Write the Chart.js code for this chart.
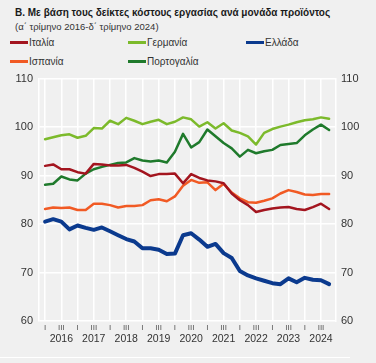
<!DOCTYPE html>
<html>
<head>
<meta charset="utf-8">
<script src="https://cdn.jsdelivr.net/npm/chart.js@4.4.1/dist/chart.umd.min.js"></script>
<style>
  body { margin: 0; background: #f0f0f0; font-family: "Liberation Sans", Arial, sans-serif; }
  #wrap { position: relative; width: 376px; height: 363px; background: #f0f0f0; overflow: hidden; }
  #title { position: absolute; left: 15px; top: 7px; font-size: 10px; font-weight: bold; color: #1a1a1a; white-space: nowrap; }
  #sub { position: absolute; left: 15px; top: 21px; font-size: 9.5px; color: #333; white-space: nowrap; }
  .item { position: absolute; height: 12px; font-size: 10px; color: #333; display: flex; align-items: center; white-space: nowrap; }
  .sw { width: 18px; height: 3px; margin-right: 1px; }
  #rule { position: absolute; left: 0; top: 357px; width: 350px; height: 1px; background: #fff; }
  #box { position: absolute; left: 0; top: 66px; width: 376px; height: 297px; }
</style>
</head>
<body>
<div id="wrap">
  <div id="title">Β. Με βάση τους δείκτες κόστους εργασίας ανά μονάδα προϊόντος</div>
  <div id="sub">(α΄ τρίμηνο 2016-δ΄ τρίμηνο 2024)</div>
  <div id="legend"></div>
  <div id="rule"></div>
  <div id="box"><canvas id="ulcChart" width="376" height="297"></canvas></div>
</div>
<script>
// data: quarterly, Q1 2016 - Q4 2024
const years = [2016, 2017, 2018, 2019, 2020, 2021, 2022, 2023, 2024];
const quarterMarks = ['I', '', 'III', ''];
const yTicks = [60, 70, 80, 90, 100, 110];

const italy = [92.0, 92.3, 91.3, 91.3, 90.7, 90.4, 92.4, 92.3, 92.1, 92.1, 92.2, 91.6,
               90.8, 89.9, 90.3, 90.3, 90.4, 88.4, 90.3, 89.5, 89.0, 88.8, 88.4, 86.3,
               84.9, 83.9, 82.5, 82.9, 83.2, 83.4, 83.5, 83.1, 82.9, 83.5, 84.2, 83.1];
const germany = [97.5, 97.9, 98.3, 98.5, 97.8, 98.2, 99.8, 99.7, 101.3, 100.6, 101.9, 101.3,
                 100.6, 101.1, 101.5, 100.6, 101.1, 102.0, 101.6, 100.1, 101.0, 99.7, 100.8, 99.3,
                 98.8, 98.1, 96.4, 98.8, 99.6, 100.1, 100.5, 101.0, 101.4, 101.6, 102.0, 101.7];
const greece = [80.5, 81.0, 80.5, 78.9, 79.7, 79.2, 78.8, 79.3, 78.5, 77.7, 76.9, 76.4,
                75.0, 75.0, 74.7, 73.8, 73.9, 77.7, 78.1, 76.8, 75.3, 75.9, 74.0, 73.0,
                70.3, 69.4, 68.8, 68.3, 67.8, 67.6, 68.8, 68.0, 68.9, 68.5, 68.4, 67.6];
const spain = [83.1, 83.4, 83.3, 83.4, 82.9, 82.9, 84.2, 84.2, 83.9, 83.4, 83.7, 83.7,
               83.9, 84.9, 85.1, 84.7, 85.7, 87.9, 89.1, 88.5, 88.6, 87.0, 88.3, 86.5,
               85.3, 84.5, 84.4, 84.8, 85.3, 86.3, 87.0, 86.6, 86.1, 86.0, 86.2, 86.2];
const portugal = [88.1, 88.3, 89.8, 89.2, 89.0, 90.4, 91.3, 91.8, 92.2, 92.6, 92.7, 93.6,
                  93.1, 92.9, 93.1, 92.7, 94.9, 98.6, 95.8, 96.9, 99.5, 98.1, 96.7, 95.6,
                  93.9, 95.3, 94.6, 95.0, 95.3, 96.3, 96.5, 96.7, 98.3, 99.5, 100.5, 99.4];

const seriesNames = ['Ιταλία', 'Γερμανία', 'Ελλάδα', 'Ισπανία', 'Πορτογαλία'];
const seriesData = [italy, germany, greece, spain, portugal];
const seriesColors = ['#a3151f', '#7cba2b', '#0b3a8e', '#f15a24', '#1f7a2c'];
const seriesWidths = [2.5, 2.5, 4, 2.5, 2.5];

// quarter index positions 0..35
const quarterIdx = years.flatMap((y, k) => quarterMarks.map((q, j) => k * 4 + j));

// legend (3 columns)
const legendPos = [[10, 36], [128, 36], [246, 36], [10, 55], [128, 55]];
const legendEl = document.getElementById('legend');
seriesNames.forEach((name, i) => {
    const d = document.createElement('div');
    d.className = 'item';
    d.style.left = legendPos[i][0] + 'px';
    d.style.top = legendPos[i][1] + 'px';
    d.innerHTML = '<span class="sw" style="background:' + seriesColors[i] + '"></span>' + name;
    legendEl.appendChild(d);
});

const white = '#ffffff';

new Chart(document.getElementById('ulcChart').getContext('2d'), {
    type: 'line',
    data: {
        labels: quarterIdx,
        datasets: seriesNames.map((name, i) => ({
            label: name,
            data: seriesData[i],
            borderColor: seriesColors[i],
            backgroundColor: seriesColors[i],
            borderWidth: seriesWidths[i],
            pointRadius: 0,
            tension: 0,
            fill: false
        }))
    },
    options: {
        responsive: false,
        animation: false,
        layout: { padding: { top: 5, bottom: 14, left: 0, right: 0 } },
        plugins: { legend: { display: false }, tooltip: { enabled: false } },
        elements: { line: { borderJoinStyle: 'round', borderCapStyle: 'round' } },
        scales: {
            x: {
                type: 'linear',
                position: 'bottom',
                min: -0.75,
                max: 35.85,
                afterBuildTicks: s => { s.ticks = quarterIdx.map(v => ({ value: v })); },
                afterFit: s => { s.height = 12; },
                border: { display: false },
                grid: {
                    drawTicks: false,
                    lineWidth: 1.5,
                    color: c => (c.tick && c.tick.value % 2 === 0) ? white : 'rgba(0,0,0,0)'
                },
                ticks: {
                    autoSkip: false,
                    maxRotation: 0,
                    padding: 2,
                    color: '#555',
                    font: { family: '"Liberation Sans", Arial, sans-serif', size: 8 },
                    callback: v => quarterMarks[v % 4]
                }
            },
            x2: {
                type: 'linear',
                position: 'bottom',
                weight: 1,
                min: -0.75,
                max: 35.85,
                afterBuildTicks: s => { s.ticks = years.map((y, k) => ({ value: k * 4 + 2 })); },
                afterFit: s => { s.height = 16; },
                border: { display: false },
                grid: { display: false, drawTicks: false },
                ticks: {
                    autoSkip: false,
                    maxRotation: 0,
                    padding: 0,
                    color: '#333',
                    font: { family: '"Liberation Sans", Arial, sans-serif', size: 10.5 },
                    callback: v => years[(v - 2) / 4]
                }
            },
            y: {
                position: 'left',
                min: 60,
                max: 110,
                afterBuildTicks: s => { s.ticks = yTicks.map(v => ({ value: v })); },
                afterFit: s => { s.width = 39; },
                border: { display: true, color: white, width: 1.5 },
                grid: { color: white, lineWidth: 1.5, drawTicks: false },
                ticks: {
                    padding: 6,
                    color: '#333',
                    font: { family: '"Liberation Sans", Arial, sans-serif', size: 11 }
                }
            },
            yR: {
                position: 'right',
                min: 60,
                max: 110,
                afterBuildTicks: s => { s.ticks = yTicks.map(v => ({ value: v })); },
                afterFit: s => { s.width = 40; },
                border: { display: true, color: white, width: 1.5 },
                grid: { display: false, drawTicks: false },
                ticks: {
                    padding: 5,
                    color: '#333',
                    font: { family: '"Liberation Sans", Arial, sans-serif', size: 11 }
                }
            }
        }
    }
});
</script>
</body>
</html>
